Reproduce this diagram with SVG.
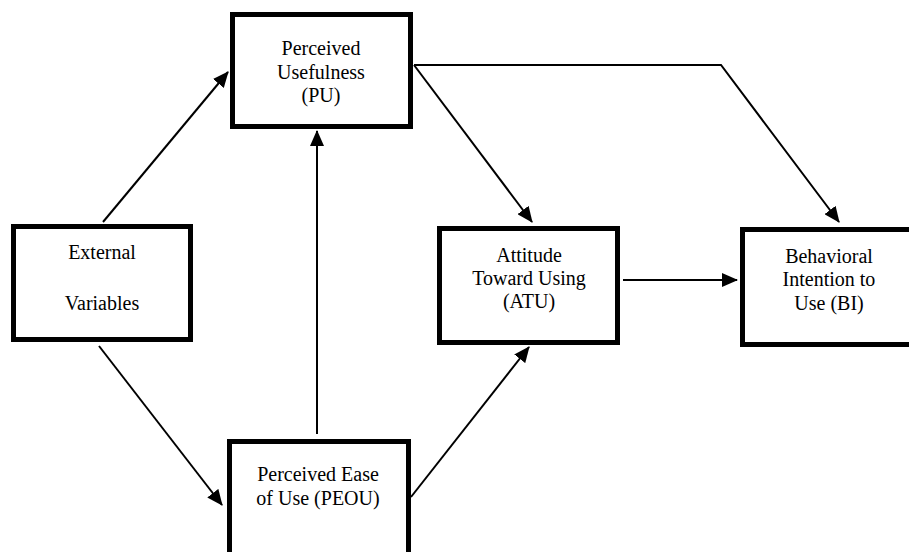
<svg xmlns="http://www.w3.org/2000/svg" width="909" height="552" viewBox="0 0 909 552">
<style>
.box{fill:#fff;stroke:#000;stroke-width:5}
.t{font-family:'Liberation Serif','Times New Roman',Times,'DejaVu Serif',serif;font-size:20px;fill:#000;text-anchor:middle}
.c{fill:none;stroke:#000;stroke-width:2}
</style>
<defs>
<marker id="ah" markerUnits="userSpaceOnUse" markerWidth="16" markerHeight="14" viewBox="0 0 16 14" refX="15" refY="7" orient="auto">
<path d="M0,0 L16,7 L0,14 Z" fill="#000"/>
</marker>
</defs>
<rect width="909" height="552" fill="#fff"/>
<g id="connectors">
<line class="c" x1="103" y1="222" x2="228" y2="72" marker-end="url(#ah)"/>
<line class="c" x1="99" y1="346" x2="222" y2="505" marker-end="url(#ah)"/>
<line class="c" x1="317" y1="434" x2="317" y2="131" marker-end="url(#ah)"/>
<line class="c" x1="411" y1="497" x2="529" y2="347" marker-end="url(#ah)"/>
<line class="c" x1="623" y1="280" x2="737" y2="280" marker-end="url(#ah)"/>
<line class="c" x1="414" y1="65" x2="532" y2="222" marker-end="url(#ah)"/>
<polyline class="c" points="414,65 721,65 839,222" marker-end="url(#ah)"/>
</g>
<g id="pu" font-family="Liberation Serif, serif">
<rect class="box" x="232.5" y="14.5" width="178" height="112"/>
<text class="t" x="321" y="55">Perceived</text>
<text class="t" x="321" y="79">Usefulness</text>
<text class="t" x="321" y="102">(PU)</text>
</g>
<g id="external">
<rect class="box" x="13.5" y="226.5" width="177" height="113"/>
<text class="t" x="102" y="259">External</text>
<text class="t" x="102" y="310">Variables</text>
</g>
<g id="atu">
<rect class="box" x="439.5" y="228.5" width="178" height="114"/>
<text class="t" x="529" y="262">Attitude</text>
<text class="t" x="529" y="285">Toward Using</text>
<text class="t" x="529" y="308">(ATU)</text>
</g>
<g id="bi">
<rect class="box" x="742.5" y="229.5" width="190" height="115"/>
<text class="t" x="829" y="263">Behavioral</text>
<text class="t" x="829" y="286">Intention to</text>
<text class="t" x="829" y="310">Use (BI)</text>
</g>
<g id="peou">
<rect class="box" x="229.5" y="441.5" width="179" height="130"/>
<text class="t" x="318" y="481">Perceived Ease</text>
<text class="t" x="318" y="505">of Use (PEOU)</text>
</g>
</svg>
